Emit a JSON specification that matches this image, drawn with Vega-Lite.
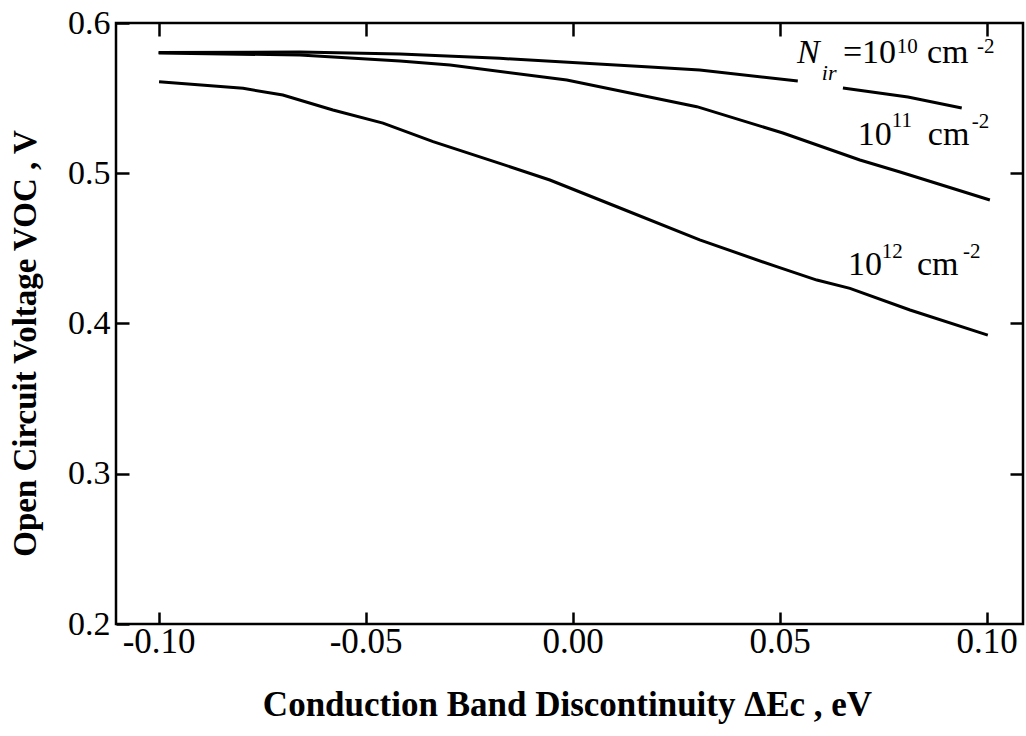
{
  "$schema": "https://vega.github.io/schema/vega-lite/v6.json",
  "width": 907,
  "height": 601,
  "autosize": {"type": "none"},
  "padding": {"left": 116, "top": 23, "right": 3, "bottom": 112},
  "background": "white",
  "config": {
    "view": {"stroke": "black", "strokeWidth": 2.5},
    "font": "Liberation Serif"
  },
  "datasets": {
    "curves": [
      {"curve": "1e10", "piece": 1, "x": -0.1000, "y": 0.5804},
      {"curve": "1e10", "piece": 1, "x": -0.0659, "y": 0.5807},
      {"curve": "1e10", "piece": 1, "x": -0.0417, "y": 0.5794},
      {"curve": "1e10", "piece": 1, "x": -0.0176, "y": 0.5765},
      {"curve": "1e10", "piece": 1, "x": 0.0187, "y": 0.5707},
      {"curve": "1e10", "piece": 1, "x": 0.0307, "y": 0.5687},
      {"curve": "1e10", "piece": 1, "x": 0.0544, "y": 0.5614},
      {"curve": "1e10", "piece": 2, "x": 0.0653, "y": 0.5567},
      {"curve": "1e10", "piece": 2, "x": 0.0810, "y": 0.5507},
      {"curve": "1e10", "piece": 2, "x": 0.0940, "y": 0.5434},
      {"curve": "1e11", "piece": 1, "x": -0.1000, "y": 0.5800},
      {"curve": "1e11", "piece": 1, "x": -0.0659, "y": 0.5787},
      {"curve": "1e11", "piece": 1, "x": -0.0417, "y": 0.5747},
      {"curve": "1e11", "piece": 1, "x": -0.0296, "y": 0.5720},
      {"curve": "1e11", "piece": 1, "x": -0.0014, "y": 0.5621},
      {"curve": "1e11", "piece": 1, "x": 0.0300, "y": 0.5443},
      {"curve": "1e11", "piece": 1, "x": 0.0508, "y": 0.5268},
      {"curve": "1e11", "piece": 1, "x": 0.0694, "y": 0.5088},
      {"curve": "1e11", "piece": 1, "x": 0.0791, "y": 0.5008},
      {"curve": "1e11", "piece": 1, "x": 0.1008, "y": 0.4822},
      {"curve": "1e12", "piece": 1, "x": -0.0999, "y": 0.5609},
      {"curve": "1e12", "piece": 1, "x": -0.0796, "y": 0.5565},
      {"curve": "1e12", "piece": 1, "x": -0.0700, "y": 0.5521},
      {"curve": "1e12", "piece": 1, "x": -0.0579, "y": 0.5421},
      {"curve": "1e12", "piece": 1, "x": -0.0458, "y": 0.5334},
      {"curve": "1e12", "piece": 1, "x": -0.0337, "y": 0.5210},
      {"curve": "1e12", "piece": 1, "x": -0.0176, "y": 0.5066},
      {"curve": "1e12", "piece": 1, "x": -0.0055, "y": 0.4955},
      {"curve": "1e12", "piece": 1, "x": 0.0107, "y": 0.4777},
      {"curve": "1e12", "piece": 1, "x": 0.0307, "y": 0.4556},
      {"curve": "1e12", "piece": 1, "x": 0.0493, "y": 0.4378},
      {"curve": "1e12", "piece": 1, "x": 0.0590, "y": 0.4289},
      {"curve": "1e12", "piece": 1, "x": 0.0670, "y": 0.4234},
      {"curve": "1e12", "piece": 1, "x": 0.0815, "y": 0.4090},
      {"curve": "1e12", "piece": 1, "x": 0.1003, "y": 0.3923}
    ],
    "labels": [
      {"role": "italic", "text": "N", "x": 0.0542, "y": 0.5734},
      {"role": "sub", "text": "ir", "x": 0.0602, "y": 0.5621},
      {"role": "base", "text": "=10", "x": 0.0653, "y": 0.5734},
      {"role": "sup", "text": "10", "x": 0.0783, "y": 0.5800},
      {"role": "base", "text": "cm", "x": 0.0856, "y": 0.5734},
      {"role": "sup", "text": "-2", "x": 0.0977, "y": 0.5800},
      {"role": "base", "text": "10", "x": 0.0689, "y": 0.5188},
      {"role": "sup", "text": "11", "x": 0.0771, "y": 0.5308},
      {"role": "base", "text": "cm", "x": 0.0858, "y": 0.5188},
      {"role": "sup", "text": "-2", "x": 0.0964, "y": 0.5301},
      {"role": "base", "text": "10", "x": 0.0665, "y": 0.4323},
      {"role": "sup", "text": "12", "x": 0.0747, "y": 0.4436},
      {"role": "base", "text": "cm", "x": 0.0832, "y": 0.4323},
      {"role": "sup", "text": "-2", "x": 0.0943, "y": 0.4436}
    ]
  },
  "layer": [
    {
      "data": {"name": "curves"},
      "mark": {"type": "line", "color": "black", "strokeWidth": 3, "clip": true},
      "encoding": {
        "x": {
          "field": "x", "type": "quantitative",
          "scale": {"domain": [-0.1103, 0.1088], "nice": false, "zero": false},
          "axis": {
            "orient": "bottom",
            "values": [-0.1, -0.05, 0, 0.05, 0.1],
            "labelExpr": "replace(format(datum.value, '.2f'), '\u2212', '-')",
            "labelFont": "Liberation Serif", "labelFontSize": 35, "labelColor": "black",
            "labelPadding": 12, "labelFlush": false,
            "tickColor": "black", "tickSize": -12, "tickWidth": 2.5,
            "domain": false, "grid": false,
            "title": "Conduction Band Discontinuity ΔEc , eV",
            "titleFont": "Liberation Serif", "titleFontSize": 35, "titleFontWeight": "bold", "titleColor": "black",
            "titleX": 451, "titleY": 91, "titleBaseline": "alphabetic", "titleAlign": "center"
          }
        },
        "y": {
          "field": "y", "type": "quantitative",
          "scale": {"domain": [0.2, 0.6], "nice": false, "zero": false},
          "axis": {
            "orient": "left",
            "values": [0.2, 0.3, 0.4, 0.5, 0.6],
            "format": ".1f",
            "labelFont": "Liberation Serif", "labelFontSize": 34, "labelColor": "black",
            "labelPadding": 19, "labelFlush": false,
            "tickColor": "black", "tickSize": -13, "tickWidth": 2.5,
            "domain": false, "grid": false,
            "title": "Open Circuit Voltage VOC , V",
            "titleFont": "Liberation Serif", "titleFontSize": 33, "titleFontWeight": "bold", "titleColor": "black",
            "titleX": -91, "titleY": 320, "titleBaseline": "middle", "titleAlign": "center", "titleAngle": -90
          }
        },
        "detail": [{"field": "curve"}, {"field": "piece"}]
      }
    },
    {
      "data": {"name": "labels"},
      "encoding": {
        "x": {
          "field": "x", "type": "quantitative",
          "scale": {"domain": [-0.1103, 0.1088], "nice": false, "zero": false},
          "axis": {
            "orient": "top", "values": [-0.1, -0.05, 0, 0.05, 0.1],
            "labels": false, "title": null, "domain": false, "grid": false,
            "tickColor": "black", "tickSize": -13, "tickWidth": 2.5
          }
        },
        "y": {
          "field": "y", "type": "quantitative",
          "scale": {"domain": [0.2, 0.6], "nice": false, "zero": false},
          "axis": {
            "orient": "right", "values": [0.3, 0.4, 0.5],
            "labels": false, "title": null, "domain": false, "grid": false,
            "tickColor": "black", "tickSize": -13, "tickWidth": 2.5
          }
        },
        "text": {"field": "text"}
      },
      "layer": [
        {
          "transform": [{"filter": "datum.role === 'base'"}],
          "mark": {"type": "text", "align": "left", "baseline": "alphabetic", "font": "Liberation Serif", "fontSize": 34, "color": "black"}
        },
        {
          "transform": [{"filter": "datum.role === 'italic'"}],
          "mark": {"type": "text", "align": "left", "baseline": "alphabetic", "font": "Liberation Serif", "fontSize": 34, "fontStyle": "italic", "color": "black"}
        },
        {
          "transform": [{"filter": "datum.role === 'sub'"}],
          "mark": {"type": "text", "align": "left", "baseline": "alphabetic", "font": "Liberation Serif", "fontSize": 22, "fontStyle": "italic", "color": "black"}
        },
        {
          "transform": [{"filter": "datum.role === 'sup'"}],
          "mark": {"type": "text", "align": "left", "baseline": "alphabetic", "font": "Liberation Serif", "fontSize": 21, "color": "black"}
        }
      ]
    }
  ],
  "resolve": {"axis": {"x": "independent", "y": "independent"}}
}
